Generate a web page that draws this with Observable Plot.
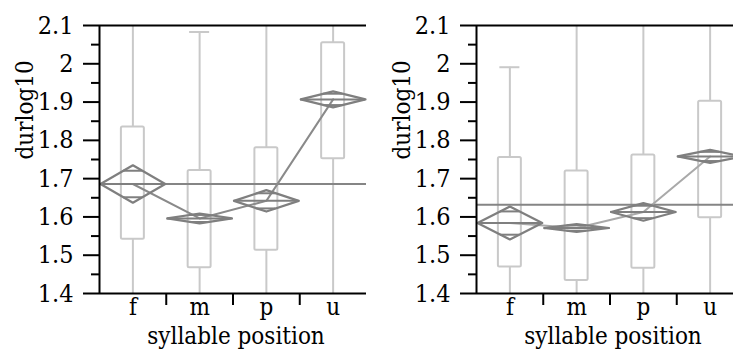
<!DOCTYPE html>
<html>
<head>
<meta charset="utf-8">
<script src="https://cdn.jsdelivr.net/npm/d3@7"></script>
<script src="https://cdn.jsdelivr.net/npm/@observablehq/plot@0.6"></script>
<style>
  html, body { margin: 0; padding: 0; background: #fff; color: #000; }
  #wrap { display: flex; width: 733px; height: 349px; overflow: hidden; }
  #wrap svg { flex: none; }
  #wrap svg, #wrap svg text, #wrap svg g {
    font-family: "DejaVu Serif Condensed", "DejaVu Serif", serif !important;
    font-stretch: condensed;
  }
</style>
</head>
<body>
<div id="wrap"></div>
<script>
// ---- data ----
const categories = ["f", "m", "p", "u"];
const yTicks = [1.4, 1.5, 1.6, 1.7, 1.8, 1.9, 2.0, 2.1];
const yMinorTicks = [1.45, 1.55, 1.65, 1.75, 1.85, 1.95, 2.05];
const xLabel = "syllable position";
const yLabel = "durlog10";

// left panel
const boxLowA   = [1.542, 1.467, 1.513, 1.752];
const boxHighA  = [1.835, 1.721, 1.781, 2.055];
const whiskLowA = [1.25, 1.20, 1.25, 1.35];
const whiskHighA= [2.25, 2.083, 2.30, 2.40];
const meanA     = [1.686, 1.596, 1.642, 1.907];
const ciA       = [0.049, 0.013, 0.028, 0.021];
const grandMeanA = 1.686;

// right panel
const boxLowB   = [1.469, 1.434, 1.466, 1.598];
const boxHighB  = [1.755, 1.720, 1.762, 1.902];
const whiskLowB = [1.25, 1.20, 1.25, 1.30];
const whiskHighB= [1.991, 2.20, 2.25, 2.30];
const meanB     = [1.584, 1.571, 1.613, 1.758];
const ciB       = [0.043, 0.010, 0.023, 0.017];
const grandMeanB = 1.632;

// ---- drawing ----
const FS = 25;
const boxColor = "#c9c9c9";
const diaColor = "#7f7f7f";
const boxHalf = 0.172;
const capHalf = 0.15;
const diaHalf = 0.485;
const ovHalf = diaHalf * (1 - Math.SQRT1_2);

function panel(boxLow, boxHigh, whiskLow, whiskHigh, mean, ci, grand, connColor) {
  const idx = categories.map((c, i) => i);
  const diamonds = idx.flatMap(i => {
    const cx = i + 0.5;
    return [
      {cat: categories[i], x: cx - diaHalf, y: mean[i]},
      {cat: categories[i], x: cx, y: mean[i] + ci[i]},
      {cat: categories[i], x: cx + diaHalf, y: mean[i]},
      {cat: categories[i], x: cx, y: mean[i] - ci[i]},
      {cat: categories[i], x: cx - diaHalf, y: mean[i]}
    ];
  });
  const overlaps = idx.flatMap(i => [
    {i, y: mean[i] + ci[i] * Math.SQRT1_2},
    {i, y: mean[i] - ci[i] * Math.SQRT1_2}
  ]);
  const svg = Plot.plot({
    width: 377,
    height: 349,
    marginLeft: 99,
    marginRight: 11,
    marginTop: 25,
    marginBottom: 56,
    style: {fontSize: FS + "px", background: "#fff", color: "#000"},
    x: {type: "linear", domain: [0, categories.length]},
    y: {domain: [1.4, 2.1]},
    marks: [
      Plot.ruleX(idx, {x: i => i + 0.5, y1: i => boxHigh[i], y2: i => whiskHigh[i], stroke: boxColor, strokeWidth: 2, clip: true}),
      Plot.ruleX(idx, {x: i => i + 0.5, y1: i => boxLow[i], y2: i => whiskLow[i], stroke: boxColor, strokeWidth: 2, clip: true}),
      Plot.ruleY(idx, {y: i => whiskHigh[i], x1: i => i + 0.5 - capHalf, x2: i => i + 0.5 + capHalf, stroke: boxColor, strokeWidth: 2, clip: true}),
      Plot.ruleY(idx, {y: i => whiskLow[i], x1: i => i + 0.5 - capHalf, x2: i => i + 0.5 + capHalf, stroke: boxColor, strokeWidth: 2, clip: true}),
      Plot.rect(idx, {x1: i => i + 0.5 - boxHalf, x2: i => i + 0.5 + boxHalf, y1: i => boxLow[i], y2: i => boxHigh[i], fill: "none", stroke: boxColor, strokeWidth: 2, rx: 1.5, clip: true}),
      Plot.ruleY([grand], {stroke: "#858585", strokeWidth: 2}),
      Plot.line(idx, {x: i => i + 0.5, y: i => mean[i], stroke: connColor, strokeWidth: 2}),
      Plot.line(diamonds, {x: "x", y: "y", z: "cat", stroke: diaColor, strokeWidth: 2.2, strokeLinejoin: "round"}),
      Plot.ruleY(idx, {y: i => mean[i], x1: i => i + 0.5 - diaHalf, x2: i => i + 0.5 + diaHalf, stroke: diaColor, strokeWidth: 2}),
      Plot.ruleY(overlaps, {y: "y", x1: d => d.i + 0.5 - ovHalf, x2: d => d.i + 0.5 + ovHalf, stroke: diaColor, strokeWidth: 2}),
      Plot.ruleX([0], {stroke: "#000", strokeWidth: 2}),
      Plot.ruleY([1.4, 2.1], {stroke: "#000", strokeWidth: 2}),
      Plot.axisY({ticks: yTicks, tickSize: 16, tickPadding: 10, tickFormat: d => String(+d.toFixed(1)), fontSize: FS, stroke: "#000", strokeWidth: 2, label: null}),
      Plot.axisY({ticks: yMinorTicks, tickSize: 8, tickFormat: () => "", stroke: "#000", strokeWidth: 2, label: null}),
      Plot.axisX({ticks: [1, 2, 3], tickSize: 12, tickFormat: () => "", stroke: "#000", strokeWidth: 2, label: null}),
      Plot.text(idx, {x: i => i + 0.5, text: i => categories[i], frameAnchor: "bottom", dy: 21.5, lineAnchor: "bottom", fontSize: 24, fill: "#000"}),
      Plot.text([yLabel], {frameAnchor: "left", dx: -74, rotate: -90, fontSize: 24, fill: "#000"}),
      Plot.text([xLabel], {frameAnchor: "bottom", dy: 50, dx: 3, lineAnchor: "bottom", fontSize: 24, fill: "#000"})
    ]
  });
  return svg;
}

const wrap = document.getElementById("wrap");
wrap.appendChild(panel(boxLowA, boxHighA, whiskLowA, whiskHighA, meanA, ciA, grandMeanA, "#8a8a8a"));
wrap.appendChild(panel(boxLowB, boxHighB, whiskLowB, whiskHighB, meanB, ciB, grandMeanB, "#a9a9a9"));
</script>
</body>
</html>
